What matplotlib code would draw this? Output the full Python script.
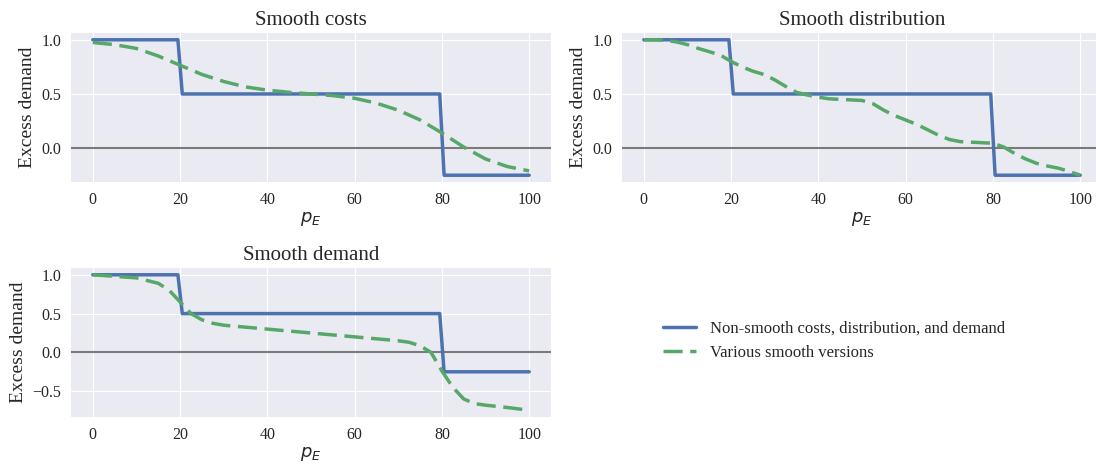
import numpy as np
import matplotlib
matplotlib.use("Agg")
import matplotlib.pyplot as plt
import seaborn as sns

# ---- data ----
step_p = [0, 19.5, 20.5, 79.5, 80.5, 100]
step_y = [1.0, 1.0, 0.5, 0.5, -0.25, -0.25]

smooth_p = [0, 5, 10, 15, 20, 25, 30, 35, 40, 45, 50, 55, 60, 65, 70, 75, 80, 85, 90, 95, 100]
smooth_costs = [0.975, 0.955, 0.92, 0.85, 0.765, 0.68, 0.615, 0.565, 0.535, 0.515, 0.50,
                0.485, 0.46, 0.415, 0.35, 0.26, 0.14, 0.01, -0.10, -0.17, -0.21]

dist_p = [0, 2.5, 5, 7.5, 10, 12.5, 15, 17.5, 20, 22.5, 25, 27.5, 30, 32.5, 35, 37.5, 40,
          42.5, 45, 47.5, 50, 52.5, 55, 57.5, 60, 62.5, 65, 67.5, 70, 72.5, 75, 77.5, 80,
          82.5, 85, 87.5, 90, 92.5, 95, 97.5, 100]
smooth_dist = [1.0, 1.0, 0.995, 0.98, 0.955, 0.92, 0.89, 0.86, 0.80, 0.75, 0.71, 0.68, 0.63,
               0.57, 0.515, 0.49, 0.47, 0.455, 0.45, 0.445, 0.44, 0.41, 0.35, 0.30, 0.26,
               0.22, 0.17, 0.12, 0.08, 0.06, 0.055, 0.05, 0.045, 0.01, -0.05, -0.10, -0.14,
               -0.165, -0.185, -0.215, -0.25]

dem_p = [0, 5, 10, 15, 17.5, 20, 22.5, 25, 27.5, 30, 40, 50, 60, 70, 72.5, 75, 77.5, 80,
         82.5, 85, 87.5, 90, 95, 100]
smooth_dem = [1.0, 0.98, 0.96, 0.89, 0.80, 0.65, 0.50, 0.42, 0.375, 0.35, 0.30, 0.25, 0.20,
              0.15, 0.13, 0.085, 0.0, -0.24, -0.45, -0.60, -0.66, -0.68, -0.71, -0.745]

titles = ["Smooth costs", "Smooth distribution", "Smooth demand"]
xticks = [0, 20, 40, 60, 80, 100]
legend_labels = ["Non-smooth costs, distribution, and demand", "Various smooth versions"]

sns.set_style("darkgrid")
plt.rcParams['font.family'] = ['Liberation Serif', 'DejaVu Serif']
plt.rcParams['mathtext.fontset'] = 'dejavusans'

blue = "#4C72B0"
green = "#55A868"

fig = plt.figure(figsize=(10.96, 4.67), dpi=100)
W, H = 1096, 467
def rect(l, r, t, b):
    return [l / W, 1 - b / H, (r - l) / W, (b - t) / H]

axes = [fig.add_axes(rect(71, 551, 33, 182)),
        fig.add_axes(rect(622, 1102, 33, 182)),
        fig.add_axes(rect(71, 551, 268, 417))]

greens = [(smooth_p, smooth_costs), (dist_p, smooth_dist), (dem_p, smooth_dem)]
handles = None
for ax, title, (gp, gy) in zip(axes, titles, greens):
    ax.set_facecolor("#EAEAF2")
    ax.axhline(0, color="#7a7a7a", lw=1.5, zorder=1)
    h1, = ax.plot(step_p, step_y, color=blue, lw=2.5, zorder=2)
    h2, = ax.plot(gp, gy, color=green, lw=2.5, ls=(0, (5.5, 2.2)), zorder=3)
    handles = [h1, h2]
    ax.set_title(title, fontsize=15, pad=6)
    ax.set_ylabel("Excess demand", fontsize=14)
    ax.set_xlabel("$p_E$", fontsize=13, labelpad=1.5)
    ax.set_xticks(xticks)
    ax.tick_params(labelsize=11.5)
    for s in ax.spines.values():
        s.set_visible(False)

fig.legend(handles, legend_labels, loc="center", bbox_to_anchor=(834 / W, 1 - 341 / H),
           frameon=False, fontsize=12, handlelength=2.0)

fig.savefig("out.png", dpi=100)
